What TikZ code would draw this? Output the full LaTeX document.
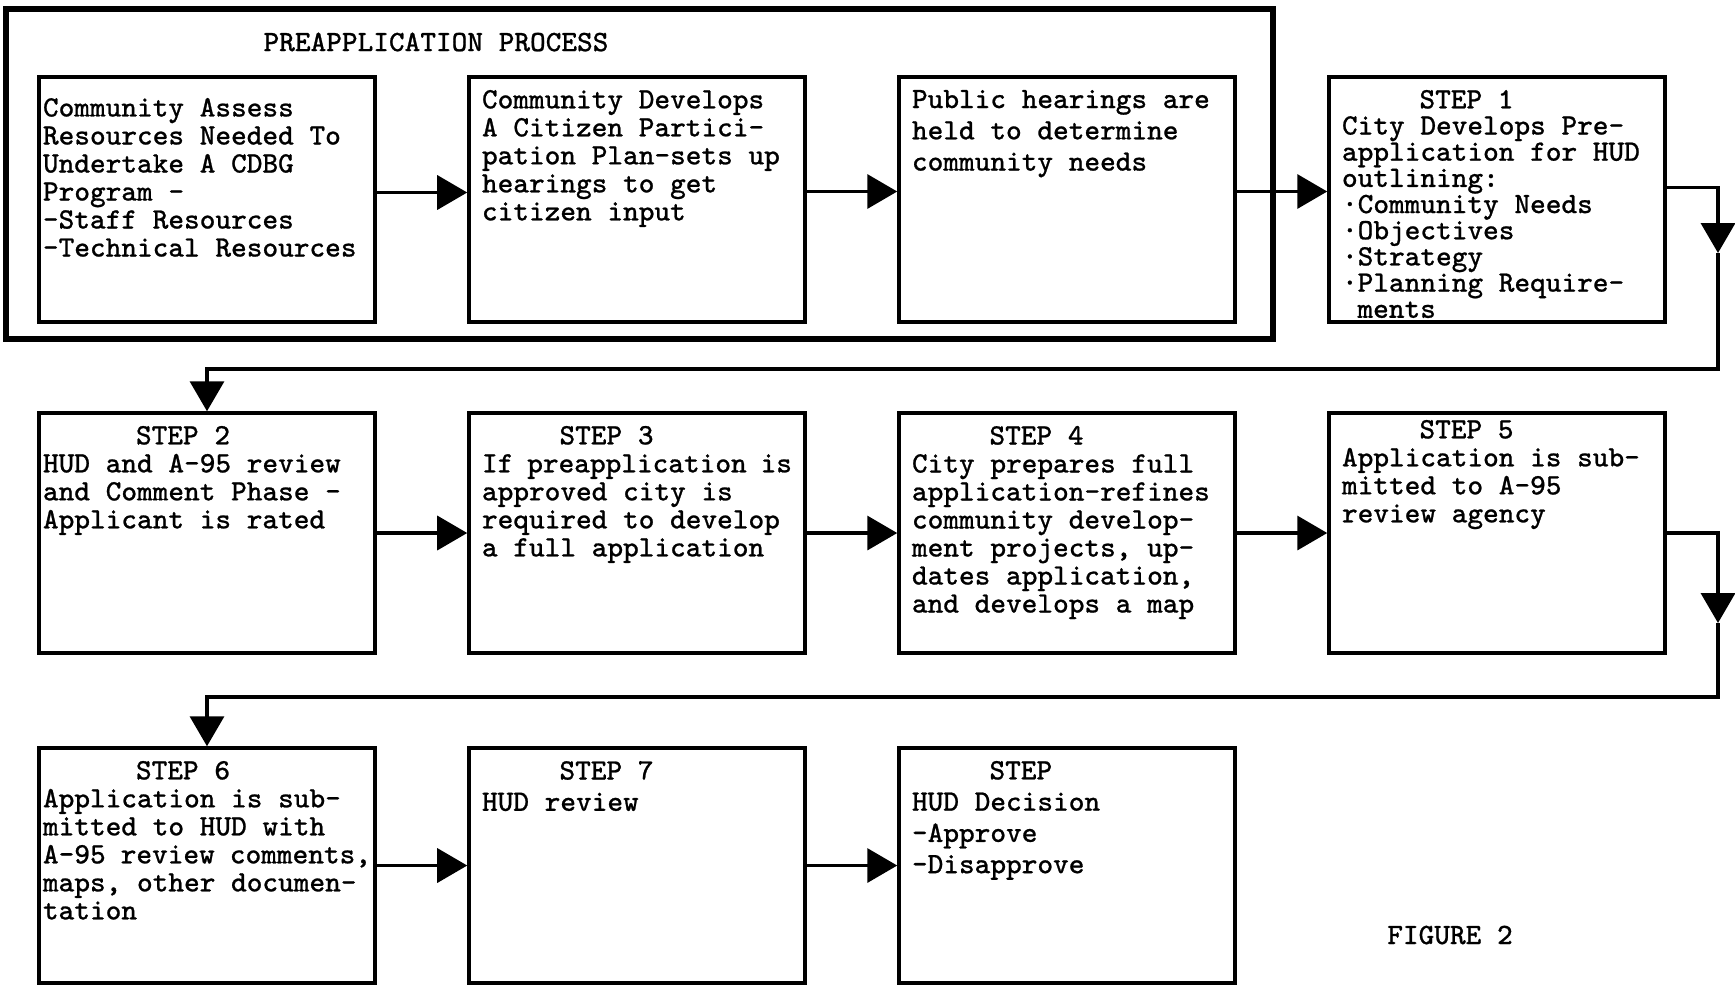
\documentclass[tikz,border=0pt]{standalone}
\usepackage{fontspec}
\newfontfamily\typewriter{Latin Modern Mono}[FakeBold=0.8]
\usepackage{tikz}
\usetikzlibrary{arrows.meta}
\newcommand{\boxtext}[3][2.14cm]{\parbox[c][#1][t]{#2}{#3}}
\newcommand{\steptitle}[2][2.625em]{\hspace*{#1}STEP #2}
\tikzstyle{box} = [rectangle, draw=black, line width=1pt, inner xsep=0.13cm, inner ysep=0.13cm, font=\typewriter\fontsize{8.4}{7.97}\selectfont]
\tikzstyle{leftbox} = [box, inner xsep=0.04cm]
\tikzstyle{heading} = [font=\typewriter\fontsize{8.4}{8}\selectfont]
\tikzstyle{frame} = [line width=1.5pt]
\tikzstyle{arrow} = [line width=1pt,-{Triangle[length=3mm,width=3.4mm]}]

\begin{document}
\begin{tikzpicture}[node distance=4.3cm]
            \useasboundingbox (0,0) rectangle (17.35,-9.86);
            \draw[frame] (0.06,-0.09) rectangle (12.73,-3.39);
            \node(title)[heading] at (4.36,-0.42){PREAPPLICATION PROCESS};
            \node(assess)[leftbox] at (2.07,-1.995){\boxtext[2.19cm]{3.28cm}{\vspace*{0.08cm}Community Assess\\Resources Needed To\\Undertake A CDBG\\Program -\\-Staff Resources\\-Technical Resources}};
            \node(develop)[box,right of=assess]{\boxtext[2.19cm]{3.1cm}{Community Develops\\A Citizen Partici-\\pation Plan-sets up\\hearings to get\\citizen input}};
            \node(hearings)[box,right of=develop]{\boxtext[2.19cm]{3.1cm}{\fontsize{8.4}{8.9}\selectfont Public hearings are\\held to determine\\community needs}};
            \node(step1)[box,right of=hearings]{\boxtext[2.19cm]{3.1cm}{\fontsize{8.4}{7.45}\selectfont\steptitle{1}\\City Develops Pre-\\application for HUD\\outlining:\\\textperiodcentered Community Needs\\\textperiodcentered Objectives\\\textperiodcentered Strategy\\\textperiodcentered Planning Require-\\\hspace*{0.525em}ments}};
            \node(step2)[leftbox,below of=assess,yshift=0.965cm]{\boxtext{3.28cm}{\steptitle[3.15em]{2}\\HUD and A-95 review\\and Comment Phase -\\Applicant is rated}};
            \node(step3)[box,right of=step2]{\boxtext{3.1cm}{\steptitle{3}\\If preapplication is\\approved city is\\required to develop\\a full application}};
            \node(step4)[box,right of=step3]{\boxtext{3.1cm}{\steptitle{4}\\City prepares full\\application-refines\\community develop-\\ment projects, up-\\dates application,\\and develops a map}};
            \node(step5)[box,right of=step4]{\boxtext{3.1cm}{\vspace*{-0.06cm}\steptitle{5}\\Application is sub-\\mitted to A-95\\review agency}};
            \node(step6)[leftbox,below of=step2,yshift=0.975cm]{\boxtext[2.09cm]{3.28cm}{\steptitle[3.15em]{6}\\Application is sub-\\mitted to HUD with\\A-95 review comments,\\maps, other documen-\\tation}};
            \node(step7)[box,right of=step6]{\boxtext[2.09cm]{3.1cm}{\fontsize{8.4}{8.9}\selectfont\steptitle{7}\\HUD review}};
            \node(decision)[box,right of=step7]{\boxtext[2.09cm]{3.1cm}{\fontsize{8.4}{8.9}\selectfont\steptitle{}\\HUD Decision\\-Approve\\-Disapprove}};
            \node(figure)[heading] at (14.50,-9.35){FIGURE 2};
            \coordinate(down1) at (17.18,-2.53);
            \coordinate(back1) at (17.18,-3.69);
            \coordinate(down2) at (17.18,-6.23);
            \coordinate(back2) at (17.18,-6.97);
            \draw[arrow]([yshift=0.07cm]assess.east)--([yshift=0.07cm]develop.west);
            \draw[arrow]([yshift=0.08cm]develop.east)--([yshift=0.08cm]hearings.west);
            \draw[arrow]([yshift=0.08cm]hearings.east)--([yshift=0.08cm]step1.west);
            \draw[arrow]([yshift=0.12cm]step1.east)-|(down1);
            \draw[arrow](down1)--(back1)-|(step2.north);
            \draw[arrow](step2)--(step3);
            \draw[arrow](step3)--(step4);
            \draw[arrow](step4)--(step5);
            \draw[arrow](step5.east)-|(down2);
            \draw[arrow](down2)--(back2)-|(step6.north);
            \draw[arrow](step6)--(step7);
            \draw[arrow](step7)--(decision);
        \end{tikzpicture}
\end{document}
